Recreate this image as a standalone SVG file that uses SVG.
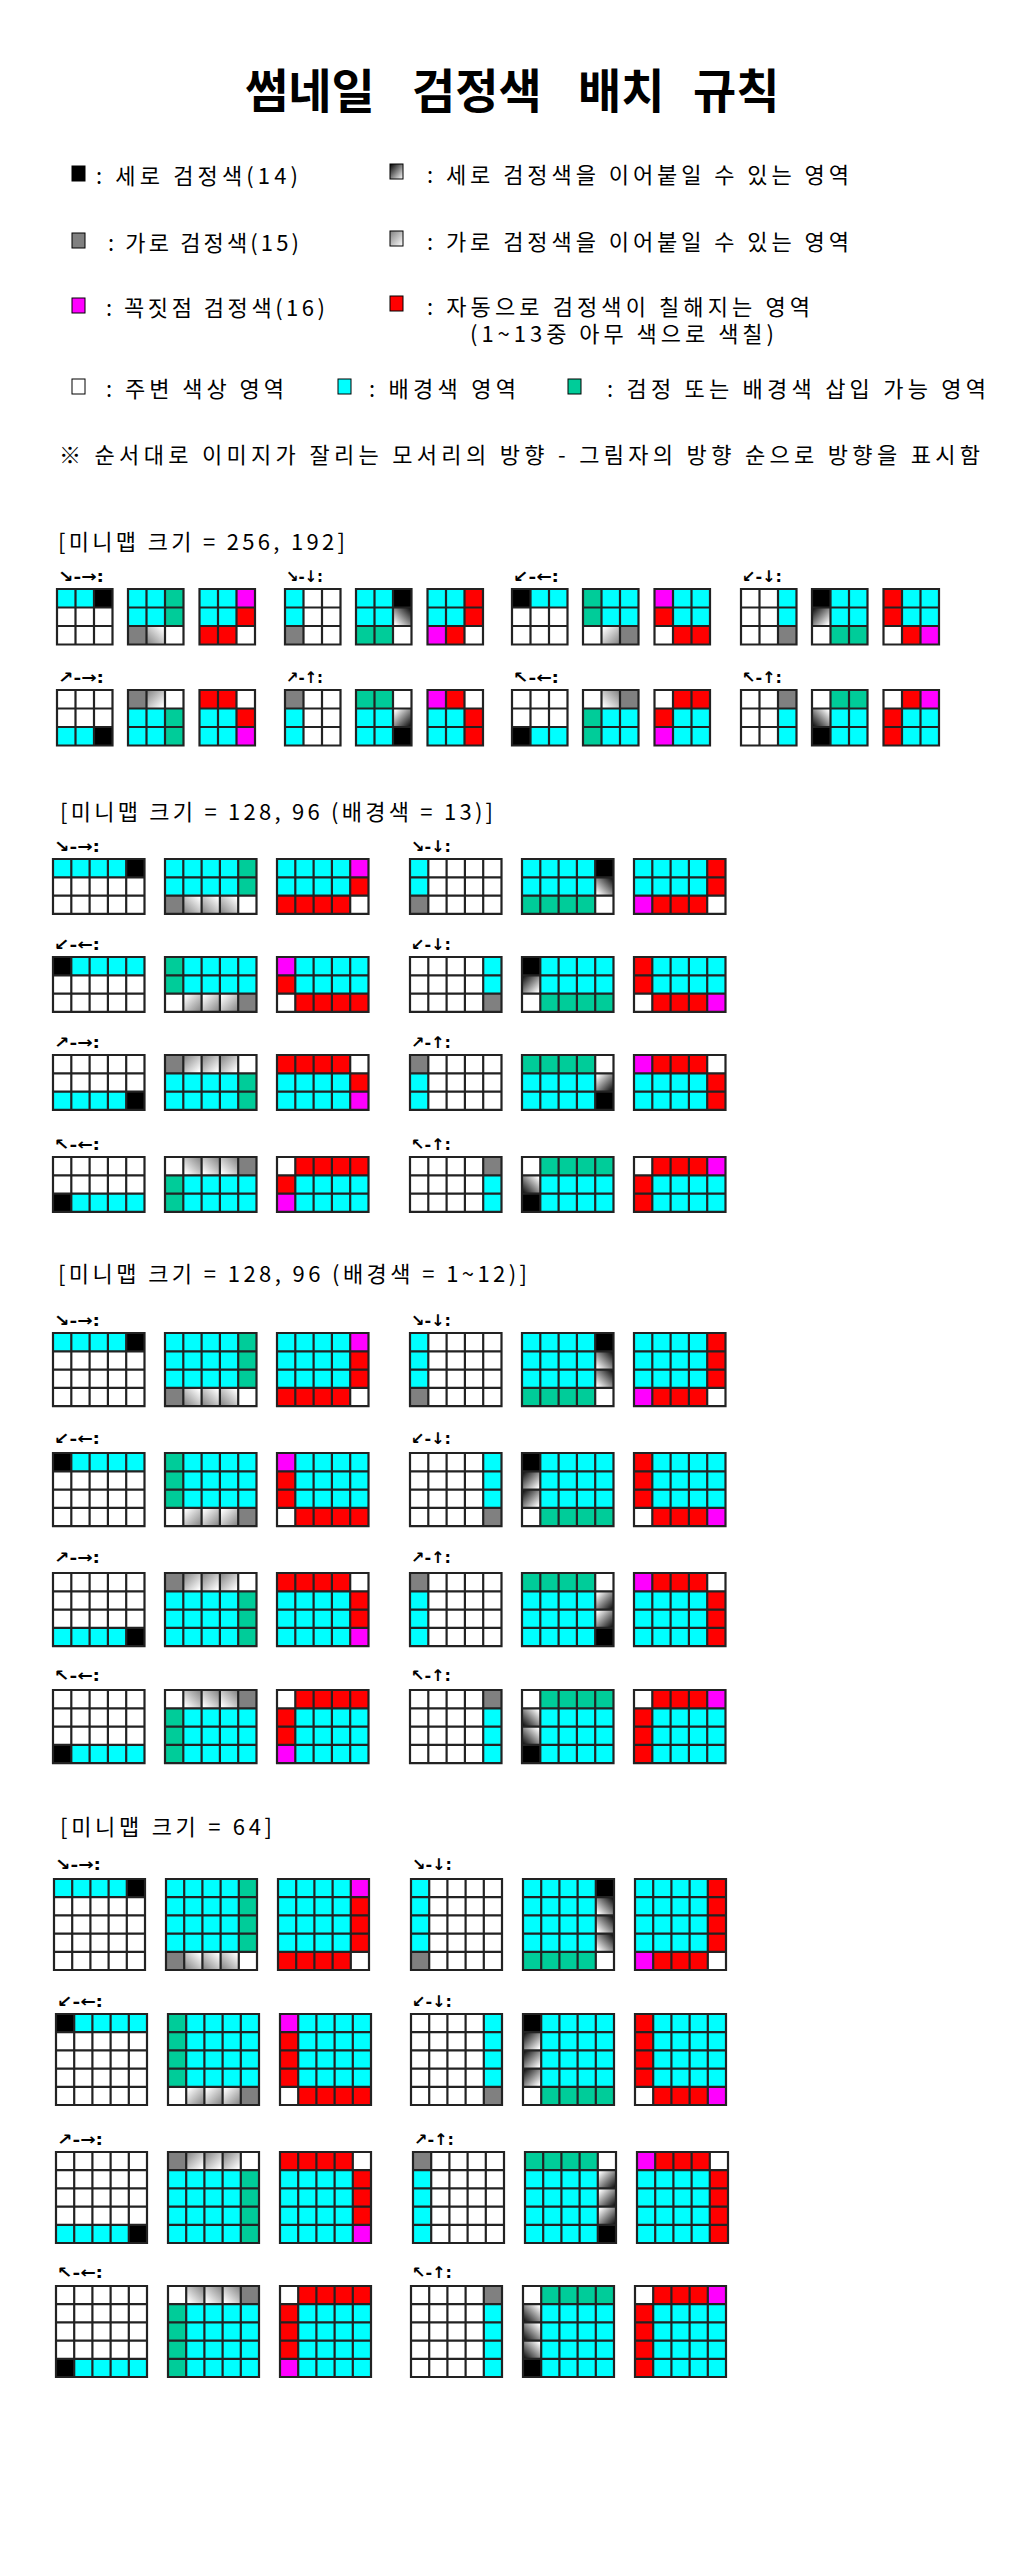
<svg xmlns="http://www.w3.org/2000/svg" width="1024" height="2560" viewBox="0 0 1024 2560">
<style>
.c{fill:#00ffff}.k{fill:#000}.g{fill:#808080}.t{fill:#00cc99}.r{fill:#ff0000}.m{fill:#ff00ff}.w{fill:#fff}
.h{fill:url(#gh)}.v{fill:url(#gv)}
.gl{fill:none;stroke:#222;stroke-width:2.2;stroke-linecap:square}
.tx{font-family:"Noto Sans CJK KR","Noto Sans",sans-serif;font-size:22px;fill:#000;dominant-baseline:central}
.lb{font-family:"DejaVu Sans",sans-serif;font-weight:bold;font-size:16px;fill:#000;dominant-baseline:central}
.ttl{font-family:"Noto Sans CJK KR",sans-serif;font-weight:700;font-size:47px;fill:#000;dominant-baseline:central}
.ic{stroke:#000;stroke-width:1}
</style>
<defs>
<linearGradient id="gh" x1="0" y1="1" x2="1" y2="0"><stop offset="0" stop-color="#808080"/><stop offset="0.9" stop-color="#fff"/></linearGradient>
<linearGradient id="gv" x1="1" y1="0" x2="0" y2="1"><stop offset="0" stop-color="#000"/><stop offset="0.9" stop-color="#fff"/></linearGradient>
<linearGradient id="ghL" x1="0" y1="0" x2="1" y2="1"><stop offset="0" stop-color="#808080"/><stop offset="1" stop-color="#fff"/></linearGradient>
<linearGradient id="gvL" x1="0" y1="0" x2="1" y2="1"><stop offset="0" stop-color="#000"/><stop offset="1" stop-color="#fff"/></linearGradient>
<path id="gl1" class="gl" d="M0 0V55.5M18.5 0V55.5M37 0V55.5M55.5 0V55.5M0 0H55.5M0 18.5H55.5M0 37H55.5M0 55.5H55.5"/>
<path id="gl2" class="gl" d="M0 0V54.9M18.3 0V54.9M36.6 0V54.9M54.9 0V54.9M73.2 0V54.9M91.5 0V54.9M0 0H91.5M0 18.3H91.5M0 36.6H91.5M0 54.9H91.5"/>
<path id="gl3" class="gl" d="M0 0V73.2M18.3 0V73.2M36.6 0V73.2M54.9 0V73.2M73.2 0V73.2M91.5 0V73.2M0 0H91.5M0 18.3H91.5M0 36.6H91.5M0 54.9H91.5M0 73.2H91.5"/>
<path id="gl4" class="gl" d="M0 0V91M18.2 0V91M36.4 0V91M54.6 0V91M72.8 0V91M91 0V91M0 0H91M0 18.2H91M0 36.4H91M0 54.6H91M0 72.8H91M0 91H91"/>

<g id="s1RA"><rect class="w" width="55.5" height="55.5"/><rect class="c" width="37" height="18.5"/><rect class="k" x="37" width="18.5" height="18.5"/><use href="#gl1"/></g>
<g id="s1RB"><rect class="w" width="55.5" height="55.5"/><rect class="c" width="37" height="37"/><rect class="t" x="37" width="18.5" height="37"/><rect class="g" y="37" width="18.5" height="18.5"/><rect class="h" x="18.5" y="37" width="18.5" height="18.5"/><use href="#gl1"/></g>
<g id="s1RC"><rect class="w" width="55.5" height="55.5"/><rect class="c" width="37" height="37"/><rect class="m" x="37" width="18.5" height="18.5"/><rect class="r" x="37" y="18.5" width="18.5" height="18.5"/><rect class="r" y="37" width="37" height="18.5"/><use href="#gl1"/></g>
<g id="s1DA"><rect class="w" width="55.5" height="55.5"/><rect class="c" width="18.5" height="37"/><rect class="g" y="37" width="18.5" height="18.5"/><use href="#gl1"/></g>
<g id="s1DB"><rect class="w" width="55.5" height="55.5"/><rect class="c" width="37" height="37"/><rect class="k" x="37" width="18.5" height="18.5"/><rect class="v" x="37" y="18.5" width="18.5" height="18.5"/><rect class="t" y="37" width="37" height="18.5"/><use href="#gl1"/></g>
<g id="s1DC"><rect class="w" width="55.5" height="55.5"/><rect class="c" width="37" height="37"/><rect class="r" x="37" width="18.5" height="37"/><rect class="m" y="37" width="18.5" height="18.5"/><rect class="r" x="18.5" y="37" width="18.5" height="18.5"/><use href="#gl1"/></g>

<g id="s2RA"><rect class="w" width="91.5" height="54.9"/><rect class="c" width="73.2" height="18.3"/><rect class="k" x="73.2" width="18.3" height="18.3"/><use href="#gl2"/></g>
<g id="s2RB"><rect class="w" width="91.5" height="54.9"/><rect class="c" width="73.2" height="36.6"/><rect class="t" x="73.2" width="18.3" height="36.6"/><rect class="g" y="36.6" width="18.3" height="18.3"/><rect class="h" x="18.3" y="36.6" width="18.3" height="18.3"/><rect class="h" x="36.6" y="36.6" width="18.3" height="18.3"/><rect class="h" x="54.9" y="36.6" width="18.3" height="18.3"/><use href="#gl2"/></g>
<g id="s2RC"><rect class="w" width="91.5" height="54.9"/><rect class="c" width="73.2" height="36.6"/><rect class="m" x="73.2" width="18.3" height="18.3"/><rect class="r" x="73.2" y="18.3" width="18.3" height="18.3"/><rect class="r" y="36.6" width="73.2" height="18.3"/><use href="#gl2"/></g>
<g id="s2DA"><rect class="w" width="91.5" height="54.9"/><rect class="c" width="18.3" height="36.6"/><rect class="g" y="36.6" width="18.3" height="18.3"/><use href="#gl2"/></g>
<g id="s2DB"><rect class="w" width="91.5" height="54.9"/><rect class="c" width="73.2" height="36.6"/><rect class="k" x="73.2" width="18.3" height="18.3"/><rect class="v" x="73.2" y="18.3" width="18.3" height="18.3"/><rect class="t" y="36.6" width="73.2" height="18.3"/><use href="#gl2"/></g>
<g id="s2DC"><rect class="w" width="91.5" height="54.9"/><rect class="c" width="73.2" height="36.6"/><rect class="r" x="73.2" width="18.3" height="36.6"/><rect class="m" y="36.6" width="18.3" height="18.3"/><rect class="r" x="18.3" y="36.6" width="54.9" height="18.3"/><use href="#gl2"/></g>

<g id="s3RA"><rect class="w" width="91.5" height="73.2"/><rect class="c" width="73.2" height="18.3"/><rect class="k" x="73.2" width="18.3" height="18.3"/><use href="#gl3"/></g>
<g id="s3RB"><rect class="w" width="91.5" height="73.2"/><rect class="c" width="73.2" height="54.9"/><rect class="t" x="73.2" width="18.3" height="54.9"/><rect class="g" y="54.9" width="18.3" height="18.3"/><rect class="h" x="18.3" y="54.9" width="18.3" height="18.3"/><rect class="h" x="36.6" y="54.9" width="18.3" height="18.3"/><rect class="h" x="54.9" y="54.9" width="18.3" height="18.3"/><use href="#gl3"/></g>
<g id="s3RC"><rect class="w" width="91.5" height="73.2"/><rect class="c" width="73.2" height="54.9"/><rect class="m" x="73.2" width="18.3" height="18.3"/><rect class="r" x="73.2" y="18.3" width="18.3" height="36.6"/><rect class="r" y="54.9" width="73.2" height="18.3"/><use href="#gl3"/></g>
<g id="s3DA"><rect class="w" width="91.5" height="73.2"/><rect class="c" width="18.3" height="54.9"/><rect class="g" y="54.9" width="18.3" height="18.3"/><use href="#gl3"/></g>
<g id="s3DB"><rect class="w" width="91.5" height="73.2"/><rect class="c" width="73.2" height="54.9"/><rect class="k" x="73.2" width="18.3" height="18.3"/><rect class="v" x="73.2" y="18.3" width="18.3" height="18.3"/><rect class="v" x="73.2" y="36.6" width="18.3" height="18.3"/><rect class="t" y="54.9" width="73.2" height="18.3"/><use href="#gl3"/></g>
<g id="s3DC"><rect class="w" width="91.5" height="73.2"/><rect class="c" width="73.2" height="54.9"/><rect class="r" x="73.2" width="18.3" height="54.9"/><rect class="m" y="54.9" width="18.3" height="18.3"/><rect class="r" x="18.3" y="54.9" width="54.9" height="18.3"/><use href="#gl3"/></g>

<g id="s4RA"><rect class="w" width="91" height="91"/><rect class="c" width="72.8" height="18.2"/><rect class="k" x="72.8" width="18.2" height="18.2"/><use href="#gl4"/></g>
<g id="s4RB"><rect class="w" width="91" height="91"/><rect class="c" width="72.8" height="72.8"/><rect class="t" x="72.8" width="18.2" height="72.8"/><rect class="g" y="72.8" width="18.2" height="18.2"/><rect class="h" x="18.2" y="72.8" width="18.2" height="18.2"/><rect class="h" x="36.4" y="72.8" width="18.2" height="18.2"/><rect class="h" x="54.6" y="72.8" width="18.2" height="18.2"/><use href="#gl4"/></g>
<g id="s4RC"><rect class="w" width="91" height="91"/><rect class="c" width="72.8" height="72.8"/><rect class="m" x="72.8" width="18.2" height="18.2"/><rect class="r" x="72.8" y="18.2" width="18.2" height="54.6"/><rect class="r" y="72.8" width="72.8" height="18.2"/><use href="#gl4"/></g>
<g id="s4DA"><rect class="w" width="91" height="91"/><rect class="c" width="18.2" height="72.8"/><rect class="g" y="72.8" width="18.2" height="18.2"/><use href="#gl4"/></g>
<g id="s4DB"><rect class="w" width="91" height="91"/><rect class="c" width="72.8" height="72.8"/><rect class="k" x="72.8" width="18.2" height="18.2"/><rect class="v" x="72.8" y="18.2" width="18.2" height="18.2"/><rect class="v" x="72.8" y="36.4" width="18.2" height="18.2"/><rect class="v" x="72.8" y="54.6" width="18.2" height="18.2"/><rect class="t" y="72.8" width="72.8" height="18.2"/><use href="#gl4"/></g>
<g id="s4DC"><rect class="w" width="91" height="91"/><rect class="c" width="72.8" height="72.8"/><rect class="r" x="72.8" width="18.2" height="72.8"/><rect class="m" y="72.8" width="18.2" height="18.2"/><rect class="r" x="18.2" y="72.8" width="54.6" height="18.2"/><use href="#gl4"/></g>
</defs>

<rect width="1024" height="2560" fill="#fff"/>

<g id="title">
<text class="ttl" y="87"><tspan x="245">썸네일</tspan><tspan x="412">검정색</tspan><tspan x="578">배치</tspan><tspan x="693">규칙</tspan></text>
</g>

<g id="legend">
<rect class="ic k" x="72" y="166" width="13" height="15"/>
<text class="tx" x="96" y="174" textLength="202" lengthAdjust="spacing">: 세로 검정색(14)</text>
<rect class="ic" fill="url(#gvL)" x="390" y="164" width="13" height="15"/>
<text class="tx" x="427" y="173" textLength="422" lengthAdjust="spacing">: 세로 검정색을 이어붙일 수 있는 영역</text>
<rect class="ic g" x="72" y="233" width="13" height="15"/>
<text class="tx" x="108" y="241" textLength="191" lengthAdjust="spacing">: 가로 검정색(15)</text>
<rect class="ic" fill="url(#ghL)" x="390" y="231" width="13" height="15"/>
<text class="tx" x="427" y="240" textLength="422" lengthAdjust="spacing">: 가로 검정색을 이어붙일 수 있는 영역</text>
<rect class="ic m" x="72" y="298" width="13" height="15"/>
<text class="tx" x="106" y="306" textLength="219" lengthAdjust="spacing">: 꼭짓점 검정색(16)</text>
<rect class="ic r" x="390" y="296" width="13" height="15"/>
<text class="tx" x="427" y="305" textLength="383" lengthAdjust="spacing">: 자동으로 검정색이 칠해지는 영역</text>
<text class="tx" x="470" y="332" textLength="304" lengthAdjust="spacing">(1~13중 아무 색으로 색칠)</text>
<rect class="ic w" x="72" y="379" width="13" height="15"/>
<text class="tx" x="106" y="387" textLength="178" lengthAdjust="spacing">: 주변 색상 영역</text>
<rect class="ic c" x="338" y="379" width="13" height="15"/>
<text class="tx" x="369" y="387" textLength="147" lengthAdjust="spacing">: 배경색 영역</text>
<rect class="ic t" x="568" y="379" width="13" height="15"/>
<text class="tx" x="607" y="387" textLength="379" lengthAdjust="spacing">: 검정 또는 배경색 삽입 가능 영역</text>
<text class="tx" x="59" y="453" textLength="921" lengthAdjust="spacing">※ 순서대로 이미지가 잘리는 모서리의 방향 - 그림자의 방향 순으로 방향을 표시함</text>
</g>

<g id="section1">
<text class="tx" x="58" y="540" textLength="287" lengthAdjust="spacing">[미니맵 크기 = 256, 192]</text>
<text class="lb" x="58" y="576" textLength="46" lengthAdjust="spacingAndGlyphs">↘-→:</text>
<text class="lb" x="286" y="576" textLength="37" lengthAdjust="spacingAndGlyphs">↘-↓:</text>
<text class="lb" x="513" y="576" textLength="46" lengthAdjust="spacingAndGlyphs">↙-←:</text>
<text class="lb" x="742" y="576" textLength="40" lengthAdjust="spacingAndGlyphs">↙-↓:</text>
<text class="lb" x="58" y="677" textLength="46" lengthAdjust="spacingAndGlyphs">↗-→:</text>
<text class="lb" x="286" y="677" textLength="37" lengthAdjust="spacingAndGlyphs">↗-↑:</text>
<text class="lb" x="513" y="677" textLength="46" lengthAdjust="spacingAndGlyphs">↖-←:</text>
<text class="lb" x="742" y="677" textLength="40" lengthAdjust="spacingAndGlyphs">↖-↑:</text>
<g id="s1-se-right"><use href="#s1RA" transform="translate(57,589)"/><use href="#s1RB" transform="translate(128,589)"/><use href="#s1RC" transform="translate(199.5,589)"/></g>
<g id="s1-se-down"><use href="#s1DA" transform="translate(285,589)"/><use href="#s1DB" transform="translate(356,589)"/><use href="#s1DC" transform="translate(427.5,589)"/></g>
<g id="s1-sw-left"><use href="#s1RA" transform="translate(567.5,589) scale(-1,1)"/><use href="#s1RB" transform="translate(638.5,589) scale(-1,1)"/><use href="#s1RC" transform="translate(710,589) scale(-1,1)"/></g>
<g id="s1-sw-down"><use href="#s1DA" transform="translate(796.5,589) scale(-1,1)"/><use href="#s1DB" transform="translate(867.5,589) scale(-1,1)"/><use href="#s1DC" transform="translate(939,589) scale(-1,1)"/></g>
<g id="s1-ne-right"><use href="#s1RA" transform="translate(57,745.5) scale(1,-1)"/><use href="#s1RB" transform="translate(128,745.5) scale(1,-1)"/><use href="#s1RC" transform="translate(199.5,745.5) scale(1,-1)"/></g>
<g id="s1-ne-up"><use href="#s1DA" transform="translate(285,745.5) scale(1,-1)"/><use href="#s1DB" transform="translate(356,745.5) scale(1,-1)"/><use href="#s1DC" transform="translate(427.5,745.5) scale(1,-1)"/></g>
<g id="s1-nw-left"><use href="#s1RA" transform="translate(567.5,745.5) scale(-1,-1)"/><use href="#s1RB" transform="translate(638.5,745.5) scale(-1,-1)"/><use href="#s1RC" transform="translate(710,745.5) scale(-1,-1)"/></g>
<g id="s1-nw-up"><use href="#s1DA" transform="translate(796.5,745.5) scale(-1,-1)"/><use href="#s1DB" transform="translate(867.5,745.5) scale(-1,-1)"/><use href="#s1DC" transform="translate(939,745.5) scale(-1,-1)"/></g>
</g>

<g id="section2">
<text class="tx" x="60" y="810" textLength="433" lengthAdjust="spacing">[미니맵 크기 = 128, 96 (배경색 = 13)]</text>
<text class="lb" x="54" y="846" textLength="46" lengthAdjust="spacingAndGlyphs">↘-→:</text>
<text class="lb" x="411" y="846" textLength="40" lengthAdjust="spacingAndGlyphs">↘-↓:</text>
<text class="lb" x="54" y="944" textLength="46" lengthAdjust="spacingAndGlyphs">↙-←:</text>
<text class="lb" x="411" y="944" textLength="40" lengthAdjust="spacingAndGlyphs">↙-↓:</text>
<text class="lb" x="54" y="1042" textLength="46" lengthAdjust="spacingAndGlyphs">↗-→:</text>
<text class="lb" x="411" y="1042" textLength="40" lengthAdjust="spacingAndGlyphs">↗-↑:</text>
<text class="lb" x="54" y="1144" textLength="46" lengthAdjust="spacingAndGlyphs">↖-←:</text>
<text class="lb" x="411" y="1144" textLength="40" lengthAdjust="spacingAndGlyphs">↖-↑:</text>
<g id="s2-se-right"><use href="#s2RA" transform="translate(53,859)"/><use href="#s2RB" transform="translate(165,859)"/><use href="#s2RC" transform="translate(277,859)"/></g>
<g id="s2-se-down"><use href="#s2DA" transform="translate(410,859)"/><use href="#s2DB" transform="translate(522,859)"/><use href="#s2DC" transform="translate(634,859)"/></g>
<g id="s2-sw-left"><use href="#s2RA" transform="translate(144.5,957) scale(-1,1)"/><use href="#s2RB" transform="translate(256.5,957) scale(-1,1)"/><use href="#s2RC" transform="translate(368.5,957) scale(-1,1)"/></g>
<g id="s2-sw-down"><use href="#s2DA" transform="translate(501.5,957) scale(-1,1)"/><use href="#s2DB" transform="translate(613.5,957) scale(-1,1)"/><use href="#s2DC" transform="translate(725.5,957) scale(-1,1)"/></g>
<g id="s2-ne-right"><use href="#s2RA" transform="translate(53,1109.9) scale(1,-1)"/><use href="#s2RB" transform="translate(165,1109.9) scale(1,-1)"/><use href="#s2RC" transform="translate(277,1109.9) scale(1,-1)"/></g>
<g id="s2-ne-up"><use href="#s2DA" transform="translate(410,1109.9) scale(1,-1)"/><use href="#s2DB" transform="translate(522,1109.9) scale(1,-1)"/><use href="#s2DC" transform="translate(634,1109.9) scale(1,-1)"/></g>
<g id="s2-nw-left"><use href="#s2RA" transform="translate(144.5,1211.9) scale(-1,-1)"/><use href="#s2RB" transform="translate(256.5,1211.9) scale(-1,-1)"/><use href="#s2RC" transform="translate(368.5,1211.9) scale(-1,-1)"/></g>
<g id="s2-nw-up"><use href="#s2DA" transform="translate(501.5,1211.9) scale(-1,-1)"/><use href="#s2DB" transform="translate(613.5,1211.9) scale(-1,-1)"/><use href="#s2DC" transform="translate(725.5,1211.9) scale(-1,-1)"/></g>
</g>

<g id="section3">
<text class="tx" x="58" y="1272" textLength="469" lengthAdjust="spacing">[미니맵 크기 = 128, 96 (배경색 = 1~12)]</text>
<text class="lb" x="54" y="1320" textLength="46" lengthAdjust="spacingAndGlyphs">↘-→:</text>
<text class="lb" x="411" y="1320" textLength="40" lengthAdjust="spacingAndGlyphs">↘-↓:</text>
<text class="lb" x="54" y="1438" textLength="46" lengthAdjust="spacingAndGlyphs">↙-←:</text>
<text class="lb" x="411" y="1438" textLength="40" lengthAdjust="spacingAndGlyphs">↙-↓:</text>
<text class="lb" x="54" y="1557" textLength="46" lengthAdjust="spacingAndGlyphs">↗-→:</text>
<text class="lb" x="411" y="1557" textLength="40" lengthAdjust="spacingAndGlyphs">↗-↑:</text>
<text class="lb" x="54" y="1675" textLength="46" lengthAdjust="spacingAndGlyphs">↖-←:</text>
<text class="lb" x="411" y="1675" textLength="40" lengthAdjust="spacingAndGlyphs">↖-↑:</text>
<g id="s3-se-right"><use href="#s3RA" transform="translate(53,1333)"/><use href="#s3RB" transform="translate(165,1333)"/><use href="#s3RC" transform="translate(277,1333)"/></g>
<g id="s3-se-down"><use href="#s3DA" transform="translate(410,1333)"/><use href="#s3DB" transform="translate(522,1333)"/><use href="#s3DC" transform="translate(634,1333)"/></g>
<g id="s3-sw-left"><use href="#s3RA" transform="translate(144.5,1453) scale(-1,1)"/><use href="#s3RB" transform="translate(256.5,1453) scale(-1,1)"/><use href="#s3RC" transform="translate(368.5,1453) scale(-1,1)"/></g>
<g id="s3-sw-down"><use href="#s3DA" transform="translate(501.5,1453) scale(-1,1)"/><use href="#s3DB" transform="translate(613.5,1453) scale(-1,1)"/><use href="#s3DC" transform="translate(725.5,1453) scale(-1,1)"/></g>
<g id="s3-ne-right"><use href="#s3RA" transform="translate(53,1646.2) scale(1,-1)"/><use href="#s3RB" transform="translate(165,1646.2) scale(1,-1)"/><use href="#s3RC" transform="translate(277,1646.2) scale(1,-1)"/></g>
<g id="s3-ne-up"><use href="#s3DA" transform="translate(410,1646.2) scale(1,-1)"/><use href="#s3DB" transform="translate(522,1646.2) scale(1,-1)"/><use href="#s3DC" transform="translate(634,1646.2) scale(1,-1)"/></g>
<g id="s3-nw-left"><use href="#s3RA" transform="translate(144.5,1763.2) scale(-1,-1)"/><use href="#s3RB" transform="translate(256.5,1763.2) scale(-1,-1)"/><use href="#s3RC" transform="translate(368.5,1763.2) scale(-1,-1)"/></g>
<g id="s3-nw-up"><use href="#s3DA" transform="translate(501.5,1763.2) scale(-1,-1)"/><use href="#s3DB" transform="translate(613.5,1763.2) scale(-1,-1)"/><use href="#s3DC" transform="translate(725.5,1763.2) scale(-1,-1)"/></g>
</g>

<g id="section4">
<text class="tx" x="60" y="1825" textLength="212" lengthAdjust="spacing">[미니맵 크기 = 64]</text>
<text class="lb" x="55" y="1864" textLength="46" lengthAdjust="spacingAndGlyphs">↘-→:</text>
<text class="lb" x="412" y="1864" textLength="40" lengthAdjust="spacingAndGlyphs">↘-↓:</text>
<text class="lb" x="57" y="2001" textLength="46" lengthAdjust="spacingAndGlyphs">↙-←:</text>
<text class="lb" x="412" y="2001" textLength="40" lengthAdjust="spacingAndGlyphs">↙-↓:</text>
<text class="lb" x="57" y="2139" textLength="46" lengthAdjust="spacingAndGlyphs">↗-→:</text>
<text class="lb" x="414" y="2139" textLength="40" lengthAdjust="spacingAndGlyphs">↗-↑:</text>
<text class="lb" x="57" y="2272" textLength="46" lengthAdjust="spacingAndGlyphs">↖-←:</text>
<text class="lb" x="412" y="2272" textLength="40" lengthAdjust="spacingAndGlyphs">↖-↑:</text>
<g id="s4-se-right"><use href="#s4RA" transform="translate(54,1879)"/><use href="#s4RB" transform="translate(166,1879)"/><use href="#s4RC" transform="translate(278,1879)"/></g>
<g id="s4-se-down"><use href="#s4DA" transform="translate(411,1879)"/><use href="#s4DB" transform="translate(523,1879)"/><use href="#s4DC" transform="translate(635,1879)"/></g>
<g id="s4-sw-left"><use href="#s4RA" transform="translate(147,2014) scale(-1,1)"/><use href="#s4RB" transform="translate(259,2014) scale(-1,1)"/><use href="#s4RC" transform="translate(371,2014) scale(-1,1)"/></g>
<g id="s4-sw-down"><use href="#s4DA" transform="translate(502,2014) scale(-1,1)"/><use href="#s4DB" transform="translate(614,2014) scale(-1,1)"/><use href="#s4DC" transform="translate(726,2014) scale(-1,1)"/></g>
<g id="s4-ne-right"><use href="#s4RA" transform="translate(56,2243) scale(1,-1)"/><use href="#s4RB" transform="translate(168,2243) scale(1,-1)"/><use href="#s4RC" transform="translate(280,2243) scale(1,-1)"/></g>
<g id="s4-ne-up"><use href="#s4DA" transform="translate(413,2243) scale(1,-1)"/><use href="#s4DB" transform="translate(525,2243) scale(1,-1)"/><use href="#s4DC" transform="translate(637,2243) scale(1,-1)"/></g>
<g id="s4-nw-left"><use href="#s4RA" transform="translate(147,2377) scale(-1,-1)"/><use href="#s4RB" transform="translate(259,2377) scale(-1,-1)"/><use href="#s4RC" transform="translate(371,2377) scale(-1,-1)"/></g>
<g id="s4-nw-up"><use href="#s4DA" transform="translate(502,2377) scale(-1,-1)"/><use href="#s4DB" transform="translate(614,2377) scale(-1,-1)"/><use href="#s4DC" transform="translate(726,2377) scale(-1,-1)"/></g>
</g>

<g id="connectors"></g>
</svg>
